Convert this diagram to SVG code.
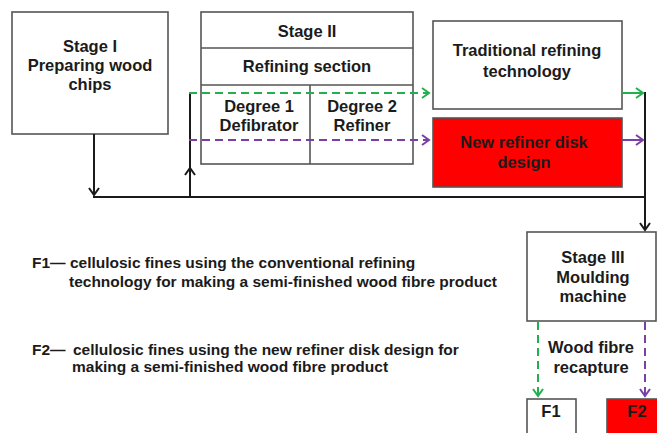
<svg xmlns="http://www.w3.org/2000/svg" width="657" height="433" viewBox="0 0 657 433">
<style>
.box{fill:#fff;stroke:#555;stroke-width:1.6}
.red{fill:#ff0000;stroke:#555;stroke-width:1.6}
.t{font-family:"Liberation Sans",Arial,sans-serif;font-weight:bold;font-size:16.5px;fill:#1b1b1b;text-anchor:middle}
.lg{font-family:"Liberation Sans",Arial,sans-serif;font-weight:bold;font-size:15.5px;fill:#1b1b1b}
.k{fill:none;stroke:#1a1a1a;stroke-width:2}
.g{fill:none;stroke:#22b04f;stroke-width:2}
.p{fill:none;stroke:#7a3fa6;stroke-width:2}
.d{stroke-dasharray:8 5}
</style>
<defs>
<marker id="ak" markerUnits="userSpaceOnUse" markerWidth="14" markerHeight="14" refX="8" refY="6" orient="auto"><path d="M1,1 L8,6 L1,11" fill="none" stroke="#1a1a1a" stroke-width="2"/></marker>
<marker id="ag" markerUnits="userSpaceOnUse" markerWidth="14" markerHeight="14" refX="8" refY="6" orient="auto"><path d="M1,1 L8,6 L1,11" fill="none" stroke="#22b04f" stroke-width="2"/></marker>
<marker id="ap" markerUnits="userSpaceOnUse" markerWidth="14" markerHeight="14" refX="8" refY="6" orient="auto"><path d="M1,1 L8,6 L1,11" fill="none" stroke="#7a3fa6" stroke-width="2"/></marker>
</defs>

<g id="stage1">
<rect class="box" x="12" y="12" width="156" height="122"/>
<text class="t" x="90" y="52">Stage I</text>
<text class="t" x="90" y="71">Preparing wood</text>
<text class="t" x="90" y="90">chips</text>
</g>

<g id="stage2">
<rect class="box" x="201" y="12" width="212" height="152"/>
<line x1="201" y1="48" x2="413" y2="48" stroke="#555" stroke-width="1.6"/>
<line x1="201" y1="85" x2="413" y2="85" stroke="#555" stroke-width="1.6"/>
<line x1="310" y1="85" x2="310" y2="164" stroke="#555" stroke-width="1.6"/>
<text class="t" x="307" y="37">Stage II</text>
<text class="t" x="307" y="72">Refining section</text>
<text class="t" x="259" y="112">Degree 1</text>
<text class="t" x="259" y="131">Defibrator</text>
<text class="t" x="362" y="112">Degree 2</text>
<text class="t" x="362" y="131">Refiner</text>
</g>

<g id="traditional">
<rect class="box" x="433" y="21" width="189" height="88"/>
<text class="t" x="527" y="56">Traditional refining</text>
<text class="t" x="527" y="77">technology</text>
</g>

<g id="newdisk">
<rect class="red" x="433" y="118" width="189" height="69"/>
<text class="t" x="524" y="148">New refiner disk</text>
<text class="t" x="524" y="168">design</text>
</g>

<g id="stage3">
<rect class="box" x="527" y="232" width="129" height="89"/>
<text class="t" x="593" y="263">Stage III</text>
<text class="t" x="593" y="283">Moulding</text>
<text class="t" x="593" y="302">machine</text>
</g>

<g id="recapture-label">
<text class="t" x="591" y="353">Wood fibre</text>
<text class="t" x="591" y="373">recapture</text>
</g>

<g id="f1">
<rect class="box" x="527" y="399" width="49" height="45"/>
<text class="t" x="551" y="417">F1</text>
</g>

<g id="f2">
<rect class="red" x="607" y="399" width="60" height="45"/>
<text class="t" x="637" y="417">F2</text>
</g>

<g id="connectors">
<path class="k" d="M94,134 V195" marker-end="url(#ak)"/>
<path class="k" d="M93,197 H646"/>
<path class="k" d="M190,197 V168" marker-end="url(#ak)"/>
<path class="k" d="M190,170 V92"/>
<path class="k" d="M645,92 V230" marker-end="url(#ak)"/>
<path class="g d" d="M189,93 H429" marker-end="url(#ag)"/>
<path class="p d" d="M189,140 H429" marker-end="url(#ap)"/>
<path class="g" d="M622,93 H643" marker-end="url(#ag)"/>
<path class="p" d="M622,140 H643" marker-end="url(#ap)"/>
<path class="g d" d="M538,322 V396" marker-end="url(#ag)"/>
<path class="p d" d="M645,322 V396" marker-end="url(#ap)"/>
</g>

<g id="legend">
<text class="lg" x="32" y="268">F1— cellulosic fines using the conventional refining</text>
<text class="lg" x="69" y="287">technology for making a semi-finished wood fibre product</text>
<text class="lg" x="32" y="355">F2—<tspan x="73">cellulosic fines using the new refiner disk design for</tspan></text>
<text class="lg" x="72" y="372">making a semi-finished wood fibre product</text>
</g>
</svg>
